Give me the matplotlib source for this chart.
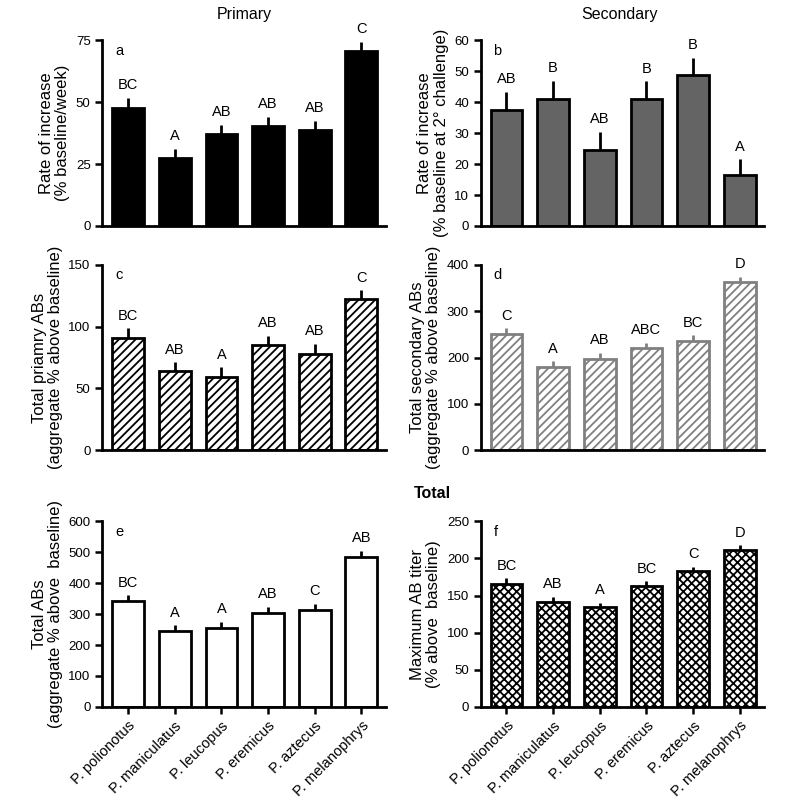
import numpy as np
import matplotlib
matplotlib.use("Agg")
import matplotlib.pyplot as plt

plt.rcParams['font.family'] = ['Liberation Sans', 'DejaVu Sans']
plt.rcParams['hatch.linewidth'] = 1.3

species = ['P. polionotus', 'P. maniculatus', 'P. leucopus',
           'P. eremicus', 'P. aztecus', 'P. melanophrys']

# panel a - primary rate of increase
rate_primary = [47.8, 27.6, 37.0, 40.5, 38.6, 70.8]
rate_primary_err = [3.9, 3.6, 3.9, 3.6, 3.9, 3.7]
letters_a = ['BC', 'A', 'AB', 'AB', 'AB', 'C']

# panel b - secondary rate of increase
rate_secondary = [37.4, 41.2, 24.6, 41.2, 48.8, 16.5]
rate_secondary_err = [5.9, 5.7, 5.8, 5.5, 5.6, 5.1]
letters_b = ['AB', 'B', 'AB', 'B', 'B', 'A']

# panel c - total primary ABs
total_primary = [91.0, 63.8, 59.0, 85.4, 78.2, 122.0]
total_primary_err = [7.7, 7.5, 8.0, 7.2, 8.0, 7.2]
letters_c = ['BC', 'AB', 'A', 'AB', 'AB', 'C']

# panel d - total secondary ABs
total_secondary = [251, 180, 197, 220, 235, 362]
total_secondary_err = [12, 12, 13, 12, 13, 12]
letters_d = ['C', 'A', 'AB', 'ABC', 'BC', 'D']

# panel e - total ABs
total_abs = [343, 244, 255, 305, 314, 484]
total_abs_err = [18, 20, 20, 19, 20, 20]
letters_e = ['BC', 'A', 'A', 'AB', 'C', 'AB']

# panel f - max titer
max_titer = [166, 141, 134, 163, 182.5, 211.7]
max_titer_err = [7.5, 7, 6, 6, 6.5, 6.3]
letters_f = ['BC', 'AB', 'A', 'BC', 'C', 'D']

fig = plt.figure(figsize=(8, 8.07), dpi=100)

lx, rx, w = 0.128, 0.601, 0.354
rows = [0.720, 0.442, 0.124]
h = 0.230

panels = [
    (lx, rows[0], rate_primary, rate_primary_err, letters_a, 'a', 75, [0, 25, 50, 75],
     'Rate of increase\n(% baseline/week)', dict(color='black', edgecolor='black', hatch=None)),
    (rx, rows[0], rate_secondary, rate_secondary_err, letters_b, 'b', 60, [0, 10, 20, 30, 40, 50, 60],
     'Rate of increase\n(% baseline at 2° challenge)', dict(color='#646464', edgecolor='black', hatch=None)),
    (lx, rows[1], total_primary, total_primary_err, letters_c, 'c', 150, [0, 50, 100, 150],
     'Total priamry ABs\n(aggregate % above baseline)', dict(color='white', edgecolor='black', hatch='////')),
    (rx, rows[1], total_secondary, total_secondary_err, letters_d, 'd', 400, [0, 100, 200, 300, 400],
     'Total secondary ABs\n(aggregate % above baseline)', dict(color='white', edgecolor='#808080', hatch='////')),
    (lx, rows[2], total_abs, total_abs_err, letters_e, 'e', 600, [0, 100, 200, 300, 400, 500, 600],
     'Total ABs\n(aggregate % above  baseline)', dict(color='white', edgecolor='black', hatch=None)),
    (rx, rows[2], max_titer, max_titer_err, letters_f, 'f', 250, [0, 50, 100, 150, 200, 250],
     'Maximum AB titer\n(% above  baseline)', dict(color='white', edgecolor='black', hatch='xxxx')),
]

x = np.arange(len(species))
for i, (left, bottom, vals, err, lets, tag, ymax, ticks, ylab, sty) in enumerate(panels):
    ax = fig.add_axes([left, bottom, w, h])
    ec = sty['edgecolor']
    ax.bar(x, vals, width=0.68, color=sty['color'], edgecolor=ec,
           linewidth=2, hatch=sty['hatch'], zorder=2)
    ax.errorbar(x, vals, yerr=[np.zeros(len(vals)), err], fmt='none',
                ecolor=ec, elinewidth=2, capsize=0, zorder=1)
    for xi, v, e, l in zip(x, vals, err, lets):
        ax.text(xi, v + e + ymax * 0.03, l, ha='center', va='bottom', fontsize=10.5)
    ax.set_xlim(-0.55, 5.52)
    ax.set_ylim(0, ymax)
    ax.set_yticks(ticks)
    ax.set_ylabel(ylab, fontsize=12, linespacing=1.1)
    ax.text(0.045, 0.98, tag, transform=ax.transAxes, ha='left', va='top', fontsize=10.5)
    for s in ['top', 'right']:
        ax.spines[s].set_visible(False)
    for s in ['left', 'bottom']:
        ax.spines[s].set_linewidth(2)
    ax.tick_params(axis='both', width=1.8, length=5, labelsize=9.5, colors='black')
    ax.set_xticks(x)
    if i >= 4:
        ax.set_xticklabels(species, rotation=45, ha='right', rotation_mode='anchor', fontsize=10.5)
    else:
        ax.set_xticklabels([])
        ax.tick_params(axis='x', length=0)

fig.text(0.306, 0.982, 'Primary', ha='center', va='center', fontsize=11.5)
fig.text(0.775, 0.982, 'Secondary', ha='center', va='center', fontsize=11.5)
fig.text(0.541, 0.389, 'Total', ha='center', va='center', fontsize=11.5, fontweight='bold')

fig.savefig('out.png', dpi=100)
